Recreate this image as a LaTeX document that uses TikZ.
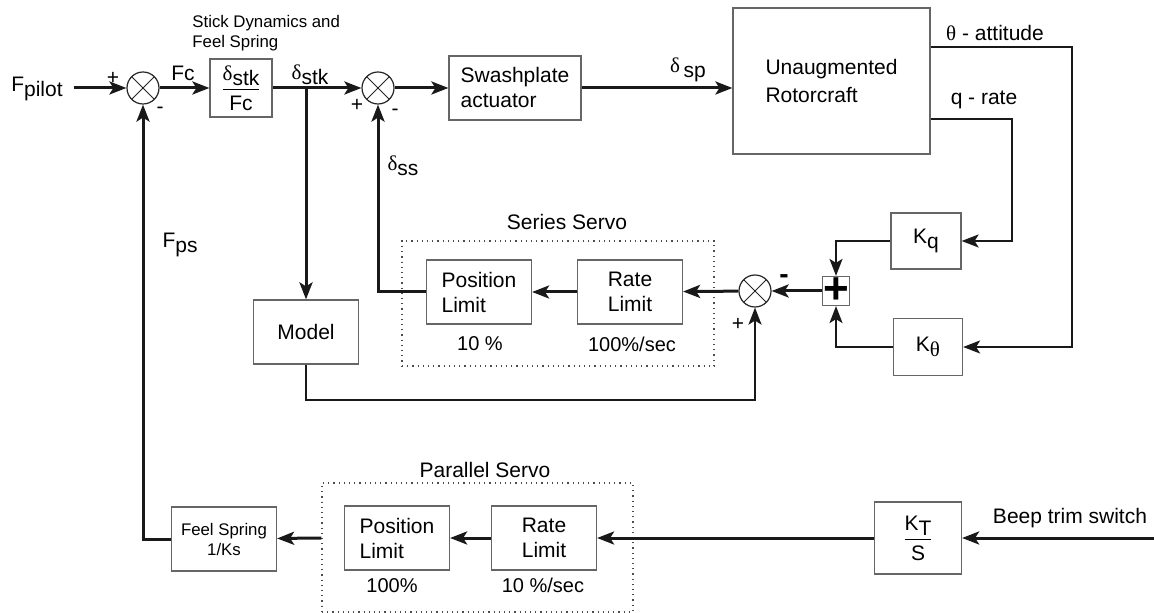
\documentclass[tikz,border=0pt]{standalone}
\usepackage{amsmath}
\usepackage{fontspec}
\setmainfont{Liberation Sans}
\newfontfamily\grk{Liberation Serif}
\usetikzlibrary{arrows.meta}

\newcommand{\sub}[1]{\raisebox{-0.45ex}{#1}}

\begin{document}
\begin{tikzpicture}[x=0.5pt,y=-0.5pt,
        block/.style={draw=black!60,line width=0.6pt,fill=white,inner sep=0pt,align=center,
            font=\fontsize{10.5}{12.5}\selectfont},
        sumj/.style={circle,draw=black!85,line width=0.6pt,fill=white,minimum size=16pt,inner sep=0pt,
            path picture={\draw[line width=0.5pt] (path picture bounding box.north west) -- (path picture bounding box.south east)
                (path picture bounding box.north east) -- (path picture bounding box.south west);}},
        frame/.style={draw=black!70,line width=0.6pt,dotted,inner sep=0pt},
        lbl/.style={inner sep=0pt,font=\fontsize{10.5}{12.5}\selectfont},
        note/.style={inner sep=0pt,font=\fontsize{10}{12}\selectfont},
        sig/.style={draw=black!90,line width=1.5pt,-{Stealth[length=8.5pt,width=6.5pt,inset=2pt]}},
        sigthin/.style={draw=black!90,line width=1pt,-{Stealth[length=8.5pt,width=6.5pt,inset=2pt]}}]

    \useasboundingbox (0,0) rectangle (1154,613);

    % Servo frames
    \node[frame,minimum width=156pt,minimum height=62.5pt] (sbox) at (558,303.5) {};
    \node[frame,minimum width=155.5pt,minimum height=64.5pt] (pbox) at (477.5,547.5) {};
    \node[lbl] at (567,222) {Series Servo};
    \node[lbl] at (485,470) {Parallel Servo};

    % Forward path
    \node[sumj] (sum1) at (143,88) {};
    \node[block,minimum width=31pt,minimum height=29pt] (stick) at (241,88)
        {\(\dfrac{\mbox{{\grk δ}\sub{stk}}}{\mbox{Fc}}\)};
    \node[sumj] (sum2) at (378,88) {};
    \node[block,minimum width=66pt,minimum height=32pt,align=left] (swash) at (515,88) {Swashplate\\actuator};
    \node[block,minimum width=98.5pt,minimum height=73pt,align=left,
        font=\fontsize{10.5}{14}\selectfont] (rotor) at (831.5,81) {Unaugmented\\Rotorcraft};

    % Feedback gains
    \node[block,minimum width=35pt,minimum height=28pt] (Kq) at (926,241) {K\sub{q}};
    \node[block,minimum width=34.5pt,minimum height=28.5pt] (Kth) at (928,347) {K\sub{\grk θ}};
    \node[block,minimum width=13.5pt,minimum height=14.5pt,font=\bfseries\fontsize{22}{22}\selectfont] (plus) at (836,291) {+};
    \node[sumj] (sum3) at (755,291) {};

    % Series servo
    \node[block,minimum width=52.5pt,minimum height=32pt] (rate) at (630,292) {Rate\\Limit};
    \node[block,minimum width=52.5pt,minimum height=32pt,align=left] (pos) at (479,292) {Position\\Limit};
    \node[block,minimum width=52.5pt,minimum height=32pt] (model) at (306,332) {Model};

    % Parallel servo and trim
    \node[block,minimum width=43.5pt,minimum height=36pt] (KT) at (918,538)
        {\(\dfrac{\mbox{K\sub{T}}}{\mbox{S}}\)};
    \node[block,minimum width=52.5pt,minimum height=32pt] (prate) at (544,538) {Rate\\Limit};
    \node[block,minimum width=52.5pt,minimum height=32pt,align=left] (ppos) at (397,538) {Position\\Limit};
    \node[block,minimum width=52.5pt,minimum height=32pt,font=\fontsize{8.4}{10}\selectfont] (feel) at (224,539) {Feel Spring\\1/Ks};

    % Free ends and corners
    \coordinate (pin) at (74,88);
    \coordinate (br) at (306,88);
    \coordinate (thc) at (1072,47);
    \coordinate (qc) at (1012,119);
    \coordinate (mlow) at (306,400);
    \coordinate (beep) at (1154,538);

    % Signals
    \draw[sig] (pin) -- (sum1);
    \draw[sig] (sum1) -- (stick);
    \draw[sig] (stick) -- (sum2);
    \draw[sig] (sum2) -- (swash);
    \draw[sig] (swash.east) -- (swash.east -| rotor.west);
    \draw[sig] (br) -- (model);
    \draw[sigthin] (rotor.east |- thc) -- (thc) |- (Kth.east);
    \draw[sigthin] (rotor.east |- qc) -- (qc) |- (Kq.east);
    \draw[sigthin] (Kq.west) -| (plus.north);
    \draw[sigthin] (Kth.west) -| (plus.south);
    \draw[sig] (plus) -- (sum3);
    \draw[sig] (sum3) -- (rate);
    \draw[sig] (rate) -- (pos);
    \draw[sig] (pos.west) -| (sum2.south);
    \draw[sigthin] (model.south) -- (mlow) -| (sum3.south);
    \draw[sig] (beep) -- (KT);
    \draw[sig] (KT) -- (prate);
    \draw[sig] (prate) -- (ppos);
    \draw[sig] (pbox.west |- ppos) -- (feel);
    \draw[sig] (feel.west) -| (sum1.south);

    % Signal names and signs
    \node[lbl] at (37,89) {F\sub{pilot}};
    \node[lbl] at (113,78) {+};
    \node[lbl] at (160,110) {-};
    \node[lbl] at (183,73) {Fc};
    \node[lbl,font=\fontsize{8.4}{10}\selectfont,align=left,anchor=west] at (192,33) {Stick Dynamics and\\Feel Spring};
    \node[lbl] at (310,75) {{\grk δ}\sub{stk}};
    \node[lbl] at (357,105) {+};
    \node[lbl] at (395,112) {-};
    \node[lbl] at (403,166) {{\grk δ}\sub{ss}};
    \node[lbl] at (688,70) {{\grk δ}\,\sub{sp}};
    \node[lbl] at (995,33) {{\grk θ} - attitude};
    \node[lbl] at (984,100) {q - rate};
    \node[lbl] at (738,324) {+};
    \node[lbl,font=\bfseries\fontsize{14}{14}\selectfont] at (784,279) {-};
    \node[lbl] at (180,245) {F\sub{ps}};
    \node[note] at (480,344) {10 \%};
    \node[note] at (632,344) {100\%/sec};
    \node[note] at (392,586) {100\%};
    \node[note] at (543,585) {10 \%/sec};
    \node[lbl] at (1070,518) {Beep trim switch};
\end{tikzpicture}
\end{document}
